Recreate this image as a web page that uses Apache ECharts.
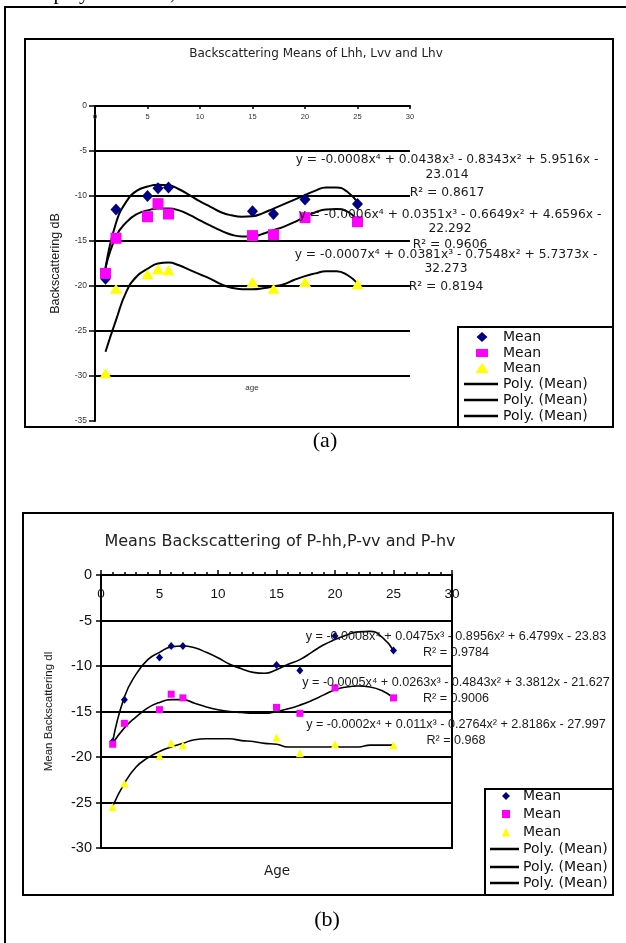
<!DOCTYPE html>
<html>
<head>
<meta charset="utf-8">
<script src="https://cdn.jsdelivr.net/npm/echarts@6/dist/echarts.min.js"></script>
<style>
html, body { margin: 0; padding: 0; background: #fff; }
#main { width: 626px; height: 943px; }
</style>
</head>
<body>
<div id="main"></div>
<script>
// sampled ages (both panels)
const ages = [1, 2, 5, 6, 7, 15, 17, 20, 25];

// (a) L-band means
const lhhMean = [-19.2, -11.5, -10.0, -9.15, -9.05, -11.7, -12.0, -10.4, -10.9];
const lvvMean = [-18.6, -14.7, -12.3, -10.85, -12.0, -14.4, -14.3, -12.4, -12.85];
const lhvMean = [-29.7, -20.3, -18.7, -18.15, -18.25, -19.55, -20.3, -19.55, -19.8];

// trend curves at every age
const curveAges = [1, 2, 3, 4, 5, 6, 7, 8, 9, 10, 11, 12, 13, 14, 15, 16, 17, 18, 19, 20, 21, 22, 23, 24, 25];
const lhhPoly = [-18.0, -13.0, -10.6, -9.4, -8.95, -8.75, -8.8, -9.25, -9.9, -10.6, -11.2, -11.8, -12.15, -12.3, -12.25, -11.9, -11.4, -10.9, -10.4, -9.9, -9.4, -9.05, -9.05, -9.5, -10.7];
const lvvPoly = [-18.0, -14.5, -12.9, -12.0, -11.6, -11.4, -11.4, -11.6, -12.1, -12.7, -13.3, -13.85, -14.3, -14.5, -14.5, -14.2, -13.8, -13.4, -12.9, -12.3, -11.8, -11.5, -11.45, -11.7, -12.7];
const lhvPoly = [-27.3, -23.8, -20.6, -18.9, -18.1, -17.5, -17.4, -17.7, -18.2, -18.7, -19.2, -19.8, -20.2, -20.35, -20.35, -20.25, -20.05, -19.8, -19.3, -18.9, -18.6, -18.35, -18.35, -18.75, -19.7];

// (b) P-band means
const phhMean = [-18.3, -13.7, -9.07, -7.8, -7.8, -9.9, -10.5, -6.7, -8.3];
const pvvMean = [-18.6, -16.3, -14.8, -13.1, -13.5, -14.55, -15.2, -12.4, -13.5];
const phvMean = [-25.5, -22.9, -19.9, -18.5, -18.7, -17.85, -19.6, -18.6, -18.7];

const phhPoly = [-18.3, -13.4, -10.9, -9.3, -8.5, -7.9, -7.8, -8.0, -8.5, -9.1, -9.8, -10.3, -10.7, -10.8, -10.4, -9.8, -9.3, -8.5, -7.7, -7.1, -6.6, -6.25, -6.2, -6.8, -8.3];
const pvvPoly = [-18.5, -16.8, -15.6, -14.6, -14.0, -13.7, -13.7, -14.1, -14.5, -14.8, -15.0, -15.1, -15.2, -15.2, -15.0, -14.7, -14.3, -13.8, -13.2, -12.6, -12.3, -12.2, -12.3, -12.7, -13.5];
const phvPoly = [-25.4, -22.9, -21.1, -20.1, -19.4, -18.9, -18.5, -18.1, -18.0, -18.0, -18.0, -18.2, -18.3, -18.5, -18.6, -18.9, -18.9, -18.9, -18.9, -18.9, -18.9, -18.9, -18.7, -18.7, -18.7];

// trendline equations printed on the charts
const eqA = [
  ['y = -0.0008x⁴ + 0.0438x³ - 0.8343x² + 5.9516x -', '23.014', 'R² = 0.8617'],
  ['y = -0.0006x⁴ + 0.0351x³ - 0.6649x² + 4.6596x -', '22.292', 'R² = 0.9606'],
  ['y = -0.0007x⁴ + 0.0381x³ - 0.7548x² + 5.7373x -', '32.273', 'R² = 0.8194']
];
const eqB = [
  ['y = -0.0008x⁴ + 0.0475x³ - 0.8956x² + 6.4799x - 23.83', 'R² = 0.9784'],
  ['y = -0.0005x⁴ + 0.0263x³ - 0.4843x² + 3.3812x - 21.627', 'R² = 0.9006'],
  ['y = -0.0002x⁴ + 0.011x³ - 0.2764x² + 2.8186x - 27.997', 'R² = 0.968']
];

const NAVY = '#000080', PINK = '#ff00ff', YELLOW = '#ffff00';

function pairs(xs, ys) {
  return xs.map((x, i) => [x, ys[i]]);
}

function scatter(name, idx, vals, symbol, size, color) {
  return {
    name: name, type: 'scatter', xAxisIndex: idx, yAxisIndex: idx,
    data: pairs(ages, vals), symbol: symbol, symbolSize: size,
    itemStyle: { color: color, opacity: 1 }, z: 5, silent: true
  };
}

function poly(name, idx, vals, w) {
  return {
    name: name, type: 'line', xAxisIndex: idx, yAxisIndex: idx,
    data: pairs(curveAges, vals), smooth: true, showSymbol: false, symbol: 'none',
    lineStyle: { color: '#000', width: w }, z: 3, silent: true
  };
}

function txt(text, x, y, font, align, fill) {
  return {
    type: 'text', z: 100, silent: true,
    style: { text: text, x: x, y: y, font: font, textAlign: align || 'left', textVerticalAlign: 'middle', fill: fill || '#1a1a1a' }
  };
}

function box(x, y, w, h, fill) {
  return {
    type: 'rect', z: 50, silent: true,
    shape: { x: x, y: y, width: w, height: h },
    style: { fill: fill || 'none', stroke: '#000', lineWidth: 2 }
  };
}

function legendRows(x0, x1, mx, tx, rows, font, mk) {
  const els = [];
  const cols = [NAVY, PINK, YELLOW];
  rows.forEach((cy, i) => {
    if (i === 0) {
      els.push({ type: 'polygon', z: 60, silent: true,
        shape: { points: [[mx, cy - mk[0][1] / 2], [mx + mk[0][0] / 2, cy], [mx, cy + mk[0][1] / 2], [mx - mk[0][0] / 2, cy]] },
        style: { fill: cols[0] } });
    } else if (i === 1) {
      els.push({ type: 'rect', z: 60, silent: true,
        shape: { x: mx - mk[1][0] / 2, y: cy - mk[1][1] / 2, width: mk[1][0], height: mk[1][1] },
        style: { fill: cols[1] } });
    } else if (i === 2) {
      els.push({ type: 'polygon', z: 60, silent: true,
        shape: { points: [[mx, cy - mk[2][1] / 2], [mx + mk[2][0] / 2, cy + mk[2][1] / 2], [mx - mk[2][0] / 2, cy + mk[2][1] / 2]] },
        style: { fill: cols[2] } });
    } else {
      els.push({ type: 'line', z: 60, silent: true,
        shape: { x1: x0, y1: cy, x2: x1, y2: cy },
        style: { stroke: '#000', lineWidth: 2.5 } });
    }
    els.push(txt(i < 3 ? 'Mean' : 'Poly. (Mean)', tx, cy, font, 'left', '#111'));
  });
  return els;
}

const fontA = '12.3px "DejaVu Sans"';
const fontB = '12.6px "Liberation Sans"';

const graphic = [
  // page frame and the cut-off line of text above it
  txt('P-hv displayed in Red, Green and Blue', -16, -7, '21px "Liberation Serif"', 'left', '#000'),
  box(5, 7, 660, 980),
  // panel frames
  box(25, 39, 588, 388),
  box(23, 513, 590, 382),
  box(458, 327, 155, 100, '#fff'),
  box(485, 789, 128, 106, '#fff'),
  // titles
  txt('Backscattering Means of Lhh, Lvv and Lhv', 316, 54, '12px "DejaVu Sans"', 'center', '#222'),
  txt('Means Backscattering of P-hh,P-vv and P-hv', 280, 542, '16px "DejaVu Sans"', 'center', '#222'),
  // x axis titles
  txt('age', 252, 388, '8px "Liberation Sans"', 'center', '#333'),
  txt('Age', 277, 871, '13.5px "DejaVu Sans"', 'center'),
  // captions
  txt('(a)', 325, 441, '22px "Liberation Serif"', 'center', '#000'),
  txt('(b)', 327, 920, '22px "Liberation Serif"', 'center', '#000')
];

// equations of panel (a)
const eqAy = [[160, 175, 193], [215, 229, 245], [255, 269, 287]];
const eqAx = [447, 450, 446];
eqA.forEach((e, i) => {
  e.forEach((s, j) => graphic.push(txt(s, eqAx[i], eqAy[i][j], fontA, 'center', '#1a1a1a')));
});
// equations of panel (b)
const eqBy = [[637, 653], [683, 699], [725, 741]];
eqB.forEach((e, i) => {
  e.forEach((s, j) => graphic.push(txt(s, 456, eqBy[i][j], fontB, 'center', '#1a1a1a')));
});

// legends
legendRows(464, 498, 482, 503, [337, 353, 368, 384, 400, 416], '14px "DejaVu Sans"',
  [[11, 10], [12, 8], [13, 10]]).forEach(g => graphic.push(g));
legendRows(490, 519, 506, 523, [796, 814, 832, 849, 867, 883], '14px "DejaVu Sans"',
  [[8, 8], [8, 8], [8, 9]]).forEach(g => graphic.push(g));

const chart = echarts.init(document.getElementById('main'), null, { renderer: 'canvas' });

chart.setOption({
  animation: false,
  backgroundColor: '#fff',
  textStyle: { fontFamily: '"Liberation Sans", Arial, sans-serif' },
  grid: [
    { left: 95, top: 106, width: 315, height: 315, show: false },
    { left: 101, top: 575, width: 351, height: 273, show: true, borderColor: '#000', borderWidth: 2, backgroundColor: 'transparent' }
  ],
  xAxis: [
    {
      gridIndex: 0, type: 'value', min: 0, max: 30, interval: 5, position: 'top',
      axisLine: { show: true, onZero: false, lineStyle: { color: '#000', width: 2 } },
      axisTick: { show: true, inside: true, length: 3, lineStyle: { color: '#000', width: 1.5 } },
      axisLabel: { inside: true, margin: 7, fontSize: 7.5, color: '#333' },
      splitLine: { show: false }
    },
    {
      gridIndex: 1, type: 'value', min: 0, max: 30, interval: 5, position: 'top',
      axisLine: { show: true, onZero: false, lineStyle: { color: '#000', width: 2 } },
      axisTick: { show: true, length: 5, lineStyle: { color: '#000', width: 1.5 } },
      minorTick: { show: true, splitNumber: 5, length: 3, lineStyle: { color: '#000', width: 1.5 } },
      axisLabel: { inside: true, margin: 12, fontSize: 13.5, color: '#111' },
      splitLine: { show: false }
    }
  ],
  yAxis: [
    {
      gridIndex: 0, type: 'value', min: -35, max: 0, interval: 5,
      name: 'Backscattering dB', nameLocation: 'middle', nameRotate: 90, nameGap: 33,
      nameTextStyle: { fontSize: 12.5, color: '#1a1a1a' },
      axisLine: { show: true, onZero: false, lineStyle: { color: '#000', width: 2 } },
      axisTick: { show: true, length: 6, lineStyle: { color: '#000', width: 1.5 } },
      axisLabel: { fontSize: 8.5, color: '#333', margin: 8 },
      splitLine: { show: true, showMinLine: false, lineStyle: { color: '#000', width: 2 } }
    },
    {
      gridIndex: 1, type: 'value', min: -30, max: 0, interval: 5,
      name: 'Mean Backscattering dl', nameLocation: 'middle', nameRotate: 90, nameGap: 46,
      nameTextStyle: { fontSize: 11.5, color: '#1a1a1a' },
      axisLine: { show: true, onZero: false, lineStyle: { color: '#000', width: 2 } },
      axisTick: { show: true, length: 5, lineStyle: { color: '#000', width: 1.5 } },
      axisLabel: { fontSize: 14.5, color: '#111', margin: 9 },
      splitLine: { show: true, lineStyle: { color: '#000', width: 2 } }
    }
  ],
  series: [
    poly('Poly Lhh', 0, lhhPoly, 2),
    poly('Poly Lvv', 0, lvvPoly, 2),
    poly('Poly Lhv', 0, lhvPoly, 2),
    scatter('Lhh', 0, lhhMean, 'diamond', [11, 12], NAVY),
    scatter('Lvv', 0, lvvMean, 'rect', [11, 11], PINK),
    scatter('Lhv', 0, lhvMean, 'triangle', [12, 10], YELLOW),
    poly('Poly Phh', 1, phhPoly, 1.6),
    poly('Poly Pvv', 1, pvvPoly, 1.6),
    poly('Poly Phv', 1, phvPoly, 1.6),
    scatter('Phh', 1, phhMean, 'diamond', [7, 8], NAVY),
    scatter('Pvv', 1, pvvMean, 'rect', [7, 7], PINK),
    scatter('Phv', 1, phvMean, 'triangle', [8, 8], YELLOW)
  ],
  graphic: graphic
});
</script>
</body>
</html>
